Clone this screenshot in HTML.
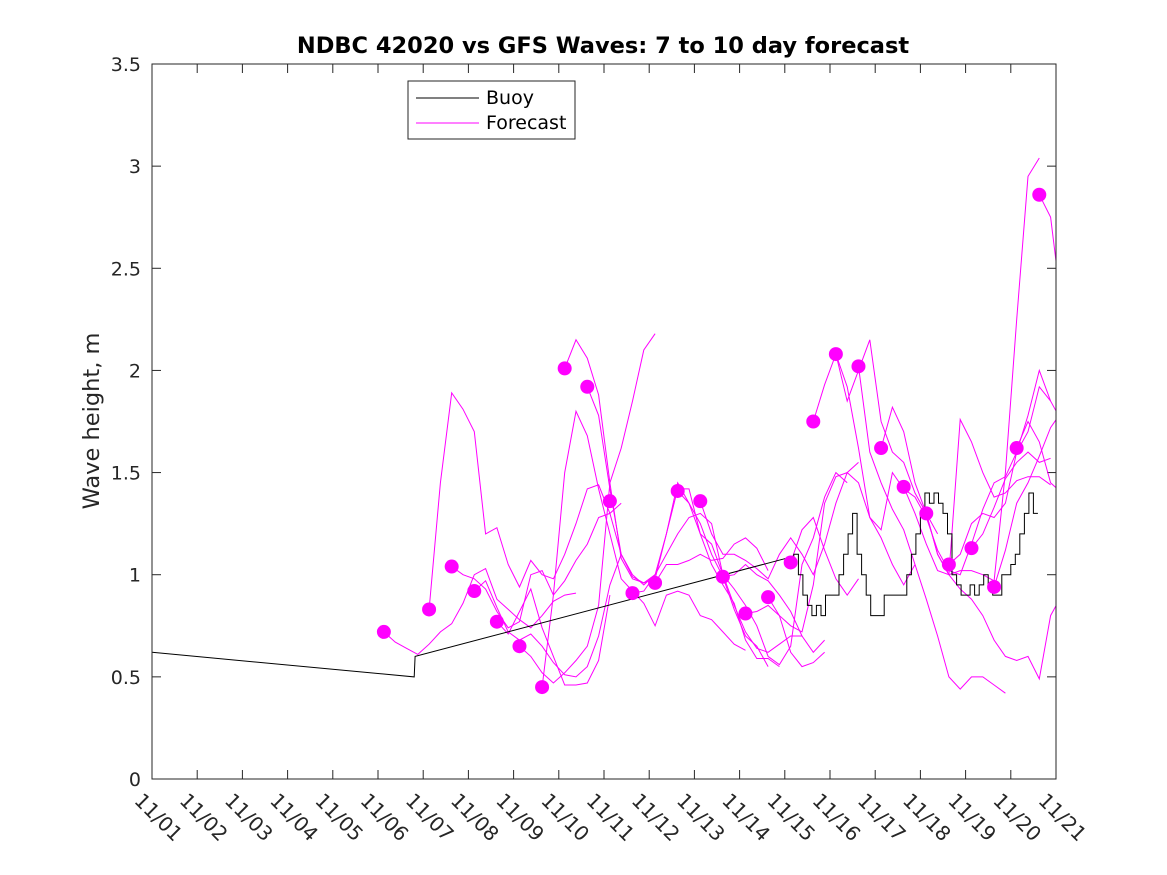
<!DOCTYPE html>
<html><head><meta charset="utf-8">
<style>
html,body{margin:0;padding:0;background:#fff;}
svg{display:block;font-family:"DejaVu Sans","Liberation Sans",sans-serif;}
</style></head>
<body>
<svg id="chart" width="1167" height="875" viewBox="0 0 1167 875" xmlns="http://www.w3.org/2000/svg">
<rect width="1167" height="875" fill="#fff"/>
<text x="603" y="53" text-anchor="middle" font-weight="bold" font-size="22.5" fill="#000">NDBC 42020 vs GFS Waves: 7 to 10 day forecast</text>
<text transform="translate(99,421) rotate(-90)" text-anchor="middle" font-size="22.5" fill="#262626">Wave height, m</text>
<defs><clipPath id="plotclip"><rect x="152" y="64" width="904" height="715"/></clipPath></defs>
<g id="axes"></g>
<g id="marks" clip-path="url(#plotclip)"></g>
<rect x="152" y="64" width="904" height="715" fill="none" stroke="#262626" stroke-width="1"/>
<g>
<rect x="408" y="81" width="167" height="58" fill="#fff" stroke="#262626" stroke-width="1"/>
<line x1="416" y1="98" x2="479" y2="98" stroke="#000" stroke-width="1"/>
<text x="486" y="104" font-size="19" fill="#000">Buoy</text>
<line x1="416" y1="123" x2="479" y2="123" stroke="#f0f" stroke-width="1"/>
<text x="486" y="129" font-size="19" fill="#000">Forecast</text>
</g>
</svg>
<script>
const xTickLabels=["11/01","11/02","11/03","11/04","11/05","11/06","11/07","11/08","11/09","11/10","11/11","11/12","11/13","11/14","11/15","11/16","11/17","11/18","11/19","11/20","11/21"];
const yTicks=[0,0.5,1,1.5,2,2.5,3,3.5];
const yTickLabels=["0","0.5","1","1.5","2","2.5","3","3.5"];
const buoyDays=[1,6.8,6.82,15.2];
const buoyVals=[0.62,0.5,0.6,1.09];
const buoyStepStart=15.2;
const buoyStep=0.1;
const buoyStepVals=[1.1,1.0,0.9,0.85,0.8,0.85,0.8,0.9,0.9,0.9,1.0,1.1,1.2,1.3,1.1,1.0,0.9,0.8,0.8,0.8,0.9,0.9,0.9,0.9,0.9,1.0,1.1,1.2,1.3,1.4,1.35,1.4,1.35,1.3,1.2,1.0,0.95,0.9,0.9,0.95,0.9,0.95,1.0,0.95,0.9,0.9,1.0,1.0,1.05,1.1,1.2,1.3,1.4,1.3];
const dotDays=[6.13,7.13,7.63,8.13,8.63,9.13,9.63,10.13,10.63,11.13,11.63,12.13,12.63,13.13,13.63,14.13,14.63,15.13,15.63,16.13,16.63,17.13,17.63,18.13,18.63,19.13,19.63,20.13,20.63];
const dotVals=[0.72,0.83,1.04,0.92,0.77,0.65,0.45,2.01,1.92,1.36,0.91,0.96,1.41,1.36,0.99,0.81,0.89,1.06,1.75,2.08,2.02,1.62,1.43,1.30,1.05,1.13,0.94,1.62,2.86];
const traceStep=0.25;
const traceStarts=[6.13,7.13,7.63,8.13,8.63,9.13,9.63,10.13,10.63,11.63,12.13,12.63,13.13,13.63,14.13,14.63,15.13,15.63,16.13,16.63,17.13,17.63,18.13,18.63,19.13,19.63,20.13,20.63];
const traceVals=[
[0.72,0.67,0.64,0.61,0.66,0.72,0.76,0.86,1.0,1.03,0.88,0.83,0.78,0.74,0.8,0.87,0.9,0.91],
[0.83,1.45,1.89,1.81,1.7,1.2,1.23,1.05,0.94,1.07,1.0,0.98,1.1,1.25,1.42,1.44,1.3,1.1,0.99,0.96,1.0],
[1.04,1.0,0.98,0.93,0.82,0.74,0.77,1.0,1.02,0.9,0.97,1.07,1.15,1.28,1.3,1.35],
[0.92,0.97,0.84,0.72,0.68,0.71,0.65,0.57,0.51,0.5,0.55,0.7,0.95,1.1],
[0.77,0.71,0.82,0.93,0.74,0.6,0.46,0.46,0.47,0.58,0.9],
[0.65,0.6,0.52,0.47,0.52,0.58,0.65,0.85,1.45,1.62,1.85,2.1,2.18],
[0.45,0.9,1.5,1.8,1.68,1.42,1.2,0.98,0.92,0.86,0.75,0.9,0.92,0.9,0.8,0.78,0.72,0.66,0.63],
[2.01,2.15,2.06,1.88,1.45,1.08,0.98,0.96,0.98,1.2,1.45,1.35,1.2,1.05,0.95,0.86,0.68,0.59,0.59,0.55],
[1.92,1.78,1.42,1.1,1.0,0.95,1.0,1.2,1.42,1.42,1.2,1.15,1.0,0.85,0.72,0.64,0.62,0.66,0.7,0.7],
[0.91,0.92,1.0,1.1,1.2,1.28,1.3,1.25,1.0,0.93,0.85,0.75,0.6,0.56,0.65,1.05,1.18,1.38,1.5,1.45],
[0.96,1.05,1.05,1.07,1.1,1.07,1.08,1.15,1.18,1.13,1.02],
[1.41,1.35,1.25,1.1,0.99,0.83,0.7,0.65,0.55],
[1.36,1.2,1.1,1.1,1.07,1.03,0.98,1.1,1.18,1.1,1.0,1.15,1.35,1.5,1.55],
[0.99,1.0,1.05,1.0,0.97,0.9,0.82,0.7,0.62,0.68],
[0.81,0.82,0.85,0.8,0.62,0.55,0.57,0.62],
[0.89,0.8,0.75,0.72,0.95,1.35,1.48,1.5,1.45,1.28,1.18,1.05,0.95,1.05],
[1.06,1.22,1.28,1.12,0.98,0.9,0.98],
[1.75,1.93,2.08,1.92,1.62,1.28,1.22,1.5,1.42,1.38,1.28,1.12,1.02,1.0,1.15,1.32,1.45,1.48,1.6,1.7,1.92,1.85],
[2.08,1.85,2.0,2.15,1.75,1.6,1.55,1.4,1.3,1.2],
[2.02,1.6,1.45,1.32,1.22,1.05,0.88,0.7,0.5,0.44,0.5,0.5,0.46,0.42],
[1.62,1.82,1.7,1.45,1.3,1.1,1.0,1.02,1.02,1.0,0.97,1.5,2.25,2.95,3.04],
[1.43,1.3,1.15,1.02,1.0,1.76,1.65,1.5,1.38,1.4,1.46,1.48,1.48,1.44],
[1.3,1.1,1.0,0.93,0.88,0.8,0.68,0.6,0.58,0.6,0.49,0.8,0.9],
[1.05,1.1,1.25,1.3,1.28,1.35,1.6,1.78,2.0,1.85,1.75],
[1.13,1.2,1.33,1.47,1.55,1.6,1.55,1.57],
[0.94,1.12,1.35,1.45,1.58,1.72,1.8],
[1.62,1.75,1.65,1.45,1.4],
[2.86,2.75,2.3]
];

const NS="http://www.w3.org/2000/svg";
const X0=152,X1=1056,Y0=779,Y1=64;
function xs(d){return X0+(d-1)*(X1-X0)/20;}
function ys(v){return Y0-v*(Y0-Y1)/3.5;}
function mk(tag,attrs,parent){const e=document.createElementNS(NS,tag);for(const k in attrs)e.setAttribute(k,attrs[k]);parent.appendChild(e);return e;}
const axes=document.getElementById('axes');
const marks=document.getElementById('marks');

xTickLabels.forEach((lab,i)=>{
  const x=xs(1+i);
  const t1=mk('line',{x1:x,y1:Y0,x2:x,y2:Y0-9,stroke:'#262626'},axes);
  
  
  const t2=mk('line',{x1:x,y1:Y1,x2:x,y2:Y1+9,stroke:'#262626'},axes);
  
  
  const tx=mk('text',{transform:`translate(${x-8},${Y0+12}) rotate(45)`,'font-size':20,fill:'#262626','dominant-baseline':'hanging'},axes);
  tx.textContent=lab;
  
  
});
yTicks.forEach((v,i)=>{
  const y=ys(v);
  const t1=mk('line',{x1:X0,y1:y,x2:X0+9,y2:y,stroke:'#262626'},axes);
  
  
  const t2=mk('line',{x1:X1,y1:y,x2:X1-9,y2:y,stroke:'#262626'},axes);
  
  
  const tx=mk('text',{x:X0-11,y:y+7,'text-anchor':'end','font-size':19,fill:'#262626'},axes);
  tx.textContent=yTickLabels[i];
  
  
});

traceVals.forEach((vals,i)=>{
  const pts=vals.map((v,j)=>xs(traceStarts[i]+j*traceStep).toFixed(1)+','+ys(v).toFixed(1)).join(' ');
  const p=mk('polyline',{points:pts,fill:'none',stroke:'#ff00ff','stroke-width':1},marks);
  
  
});

let bp=buoyDays.map((d,i)=>xs(d).toFixed(1)+','+ys(buoyVals[i]).toFixed(1));
buoyStepVals.forEach((v,j)=>{
  const d0=buoyStepStart+j*buoyStep,d1=d0+buoyStep;
  bp.push(xs(d0).toFixed(1)+','+ys(v).toFixed(1));
  bp.push(xs(d1).toFixed(1)+','+ys(v).toFixed(1));
});
const bl=mk('polyline',{points:bp.join(' '),fill:'none',stroke:'#000','stroke-width':1},marks);



dotDays.forEach((d,i)=>{
  const c=mk('circle',{cx:xs(d),cy:ys(dotVals[i]),r:7,fill:'#ff00ff'},marks);
  
  
});
</script>
</body></html>
